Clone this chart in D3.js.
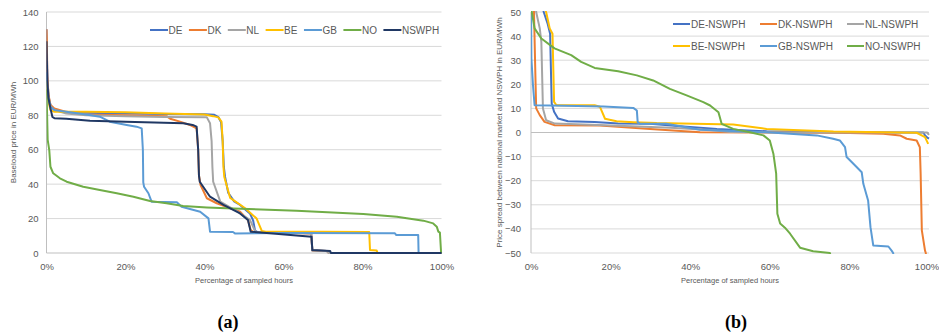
<!DOCTYPE html>
<html>
<head>
<meta charset="utf-8">
<script src="https://cdn.jsdelivr.net/npm/d3@7"></script>
<style>
  html, body { margin: 0; padding: 0; background: #fff; }
  svg { display: block; }
  text { font-family: "Liberation Sans", Arial, sans-serif; }
</style>
</head>
<body>
<svg id="fig" width="939" height="335"></svg>
<script>
// ---- Panel (a): price duration curves, [share of hours in %, EUR/MWh] ----
const priceDE = [[0,130],[0.15,110],[0.3,98],[0.6,90],[1,86],[2,83],[4,82],[10,81.5],[20,81],[30,80.8],[40,80.6],[42.5,80.3],[43.5,79],[44.2,76],[44.6,65],[44.9,50],[45.2,44.3],[46,35],[47.5,30],[49,27.9],[51.5,23],[52.3,19],[52.8,13],[53.5,12],[60,11.8],[67,11.5],[67.3,1.5],[71,1.2],[71.5,0],[100,0]];
const priceDK = [[0,130],[0.1,123],[0.2,103],[0.5,92],[1,86],[2,84],[5,82],[10,80.5],[20,80],[30.4,79.5],[31.3,78],[33.8,76.3],[36.3,74.4],[38,72.4],[38.4,60],[38.6,45],[39,39.5],[40.6,31.8],[43.1,28.9],[49,24],[51,19.2],[51.7,13.4],[52.5,12],[60,11.7],[67,11.4],[67.3,1.5],[71,1.2],[71.5,0],[100,0]];
const priceNL = [[0,100],[0.3,92],[1,85],[2,83],[5,81],[10,80],[20,79.5],[30,79],[40.6,78.8],[41.4,75.4],[41.8,65],[42,50],[42.2,41.4],[44,29.8],[48.1,24.4],[51.5,19.2],[52.8,12.8],[53.5,12],[67,11.5],[67.3,1.5],[71,1.2],[71.5,0],[100,0]];
const priceBE = [[0,100],[0.3,90],[1,83],[2,82],[10,82],[20,81.8],[30,81],[40,80.5],[42.2,79.5],[43.5,78.8],[44.3,76.3],[44.6,65],[44.8,50],[45,44.3],[46.5,32],[50.3,26],[53.2,20],[54.5,12.8],[55.5,12.4],[70,12.3],[81.7,12.2],[81.9,1.7],[83.6,1.5],[83.8,0],[100,0]];
const priceGB = [[0,105],[0.3,92],[1,85],[2,83],[5,82],[10,80.5],[13.5,79.2],[16,76.3],[20.3,74.4],[22.8,73.4],[24.1,72.4],[24.4,60],[24.5,41],[24.7,38.5],[25.8,34.7],[26.6,29.8],[33,29.5],[34.2,26.9],[38.9,24],[41,20.1],[41.4,12.4],[47.2,12.2],[47.7,11.4],[60,11.6],[88.2,11.5],[88.5,10.5],[94.1,10.5],[94.2,0],[100,0]];
const priceNO = [[0,95],[0.3,65.7],[0.7,59.8],[1,50.1],[1.7,46.3],[3.4,43.4],[5.1,41.4],[9.3,38.5],[13.5,36.6],[17.8,34.7],[22,32.7],[26.2,30.2],[30.4,28.9],[34.6,27.3],[40.6,26.5],[47.3,25.9],[63.3,24.6],[80.2,22.7],[88.7,21.1],[95.4,18.8],[97.9,17.2],[98.8,15.3],[99.2,12.4],[99.6,11.8],[99.9,0]];
const priceNSWPH = [[0,123],[0.2,100],[0.5,90],[1,84],[1.5,79],[2,78.3],[5,78],[11,76.8],[20,76.3],[34.6,75.4],[37,74.4],[38,73.4],[38.4,60],[38.6,45],[38.8,41.4],[41.4,32.7],[44.8,27.9],[49,23],[51,19.2],[51.7,12.4],[55,11.8],[67.1,9.5],[67.3,1.7],[71.8,1.2],[72,0],[100,0]];

// ---- Panel (b): spread national market minus NSWPH, [share of hours in %, EUR/MWh] ----
const spreadDE = [[0,80],[3.2,50],[4.2,45],[4.8,41],[5.2,12],[5.8,8.6],[6.8,5.8],[9.3,4.7],[16,4.4],[21.9,3.7],[29.9,3.6],[38.3,2.5],[46.7,1.5],[59.2,0.5],[75,0.2],[92.7,0],[98.6,0],[99,-1.2],[99.5,-2],[100,-2.5]];
const spreadDK = [[0,90],[0.75,50],[1.1,23.8],[1.3,10],[2.2,7.2],[3.4,4.4],[6,3],[17.3,2.9],[29.9,1.5],[42.5,0.1],[60,0],[80,-0.2],[88.5,-0.5],[92.7,-1.2],[94.4,-2.6],[96.9,-3.3],[97.7,-6.1],[97.9,-17.1],[98.2,-40.6],[99,-49],[99.2,-50],[99.4,-56]];
const spreadNL = [[0,90],[1.3,50],[2.2,43.2],[2.6,37.6],[3,10],[3.8,5.1],[6,3.7],[21.9,2.8],[35,2],[45,1],[50,0.2],[70,0],[99.5,0],[100,-1]];
const spreadBE = [[0,90],[3.8,50],[4.7,43.2],[5.4,41],[5.8,12.7],[6.4,11.3],[16,11.3],[17.3,10.7],[18.6,5.7],[21.5,4.7],[25.7,4.3],[31.6,3.9],[50.8,3.3],[59.2,1.5],[76,0.4],[96.9,-0.1],[99,-1.9],[99.8,-4.7]];
const spreadGB = [[0,56],[0.1,30.7],[0.5,19.6],[0.9,11.3],[5,11.2],[18.2,10.8],[25.7,10.2],[26.6,9.1],[26.8,4.3],[27.4,3.6],[34,3.6],[42.5,1.1],[59.2,0.1],[71.8,-1.2],[75.9,-2.6],[77.6,-3.3],[78.9,-6.1],[79.3,-10.2],[81,-13],[83.1,-16.5],[83.5,-21.3],[84.7,-28.2],[85.3,-39.3],[86,-46.9],[89.8,-47.3],[90.6,-49],[91,-50],[91.4,-56]];
const spreadNO = [[0,52],[0.9,43.2],[2.6,39],[5.9,34.9],[10.1,32.1],[12.6,29.3],[16,26.8],[21.9,25.4],[26.6,23.7],[30.7,21.6],[34.9,18.1],[39.1,15.4],[43.3,12.6],[45,11.2],[47.1,8.4],[47.9,3.6],[50.8,1.5],[55,0.1],[58.4,-1.2],[60,-3.3],[60.9,-8.8],[61.6,-17.1],[61.9,-33.7],[62.6,-37.8],[63.8,-39.5],[65.1,-42],[67.6,-47.8],[70.9,-49.3],[75.1,-50],[76,-56]];

// Tick labels
const xTicks = [0, 20, 40, 60, 80, 100];
const priceTicks = [0, 20, 40, 60, 80, 100, 120, 140];
const spreadTicks = [-50, -40, -30, -20, -10, 0, 10, 20, 30, 40, 50];

// Series names and colours
const namesA = ["DE", "DK", "NL", "BE", "GB", "NO", "NSWPH"];
const namesB = ["DE-NSWPH", "DK-NSWPH", "NL-NSWPH", "BE-NSWPH", "GB-NSWPH", "NO-NSWPH"];
const colors = ["#4472C4", "#ED7D31", "#A5A5A5", "#FFC000", "#5B9BD5", "#70AD47", "#203864"];

const seriesA = [priceDE, priceDK, priceNL, priceBE, priceGB, priceNO, priceNSWPH];
const seriesB = [spreadDE, spreadDK, spreadNL, spreadBE, spreadGB, spreadNO];

const svg = d3.select("#fig");
const gridColor = "#D9D9D9";
const axisColor = "#BFBFBF";
const labelColor = "#595959";

function panel(opts) {
  const x = d3.scaleLinear().domain([0, 100]).range(opts.xRange);
  const y = d3.scaleLinear().domain(opts.yDomain).range([253, 12]);
  const g = svg.append("g");

  // horizontal gridlines
  g.append("g").selectAll("line")
    .data(opts.yTicks.filter(v => v !== opts.axisAt))
    .join("line")
    .attr("x1", opts.xRange[0]).attr("x2", opts.xRange[1])
    .attr("y1", d => y(d)).attr("y2", d => y(d))
    .attr("stroke", gridColor).attr("stroke-width", 1);

  // axis lines
  g.append("line")
    .attr("x1", opts.xRange[0]).attr("x2", opts.xRange[1])
    .attr("y1", y(opts.axisAt)).attr("y2", y(opts.axisAt))
    .attr("stroke", axisColor).attr("stroke-width", 1);
  g.append("line")
    .attr("x1", opts.xRange[0]).attr("x2", opts.xRange[0])
    .attr("y1", 12).attr("y2", 253)
    .attr("stroke", axisColor).attr("stroke-width", 1);

  // tick labels
  const ya = g.append("g").attr("transform", `translate(${opts.xRange[0]},0)`)
    .call(d3.axisLeft(y).tickValues(opts.yTicks).tickSize(0).tickPadding(opts.yPad));
  const xa = g.append("g").attr("transform", `translate(0,253)`)
    .call(d3.axisBottom(x).tickValues(xTicks).tickSize(0).tickPadding(10.5).tickFormat(d => d + "%"));
  [ya, xa].forEach(a => {
    a.select(".domain").remove();
    a.selectAll("text").attr("fill", labelColor)
      .style("font-family", '"Liberation Sans", Arial, sans-serif')
      .style("font-size", "9.5px");
  });
  // keep the last percentage label inside the page edge
  xa.selectAll("text").filter(d => d === 100).attr("dx", opts.lastDx || 0);

  // series lines, clipped to the plot area
  const clipId = "clip-" + opts.id;
  svg.append("clipPath").attr("id", clipId).append("rect")
    .attr("x", opts.xRange[0]).attr("y", 11)
    .attr("width", opts.xRange[1] - opts.xRange[0] + 2).attr("height", 243);
  const line = d3.line().x(d => x(d[0])).y(d => y(d[1]));
  g.append("g").attr("clip-path", `url(#${clipId})`)
    .selectAll("path").data(opts.series).join("path")
    .attr("d", line)
    .attr("fill", "none")
    .attr("stroke", (d, i) => colors[i])
    .attr("stroke-width", 2)
    .attr("stroke-linejoin", "round");

  // axis titles
  g.append("text")
    .attr("transform", `translate(${opts.yTitleX},132.5) rotate(-90)`)
    .attr("text-anchor", "middle").attr("dy", "0.35em")
    .attr("fill", labelColor).style("font-size", "8px")
    .text(opts.yTitle);
  g.append("text")
    .attr("x", (opts.xRange[0] + opts.xRange[1]) / 2).attr("y", 283)
    .attr("text-anchor", "middle")
    .attr("fill", labelColor).style("font-size", "7.5px")
    .text("Percentage of sampled hours");

  // caption
  g.append("text")
    .attr("x", opts.captionX).attr("y", 328)
    .attr("text-anchor", "middle")
    .style("font-family", '"Liberation Serif", "Times New Roman", serif')
    .style("font-weight", "bold").style("font-size", "18px")
    .attr("fill", "#000")
    .text(opts.caption);

  return g;
}

const gA = panel({
  id: "a", xRange: [46.5, 441.5], yDomain: [0, 140], yTicks: priceTicks, axisAt: 0,
  yPad: 8, series: seriesA, yTitle: "Baseload price in EUR/MWh", yTitleX: 13,
  captionX: 228, caption: "(a)"
});
const gB = panel({
  id: "b", xRange: [531, 929], yDomain: [-50, 50], yTicks: spreadTicks, axisAt: 0,
  yPad: 10, series: seriesB, yTitle: "Price spread between national market and NSWPH in EUR/MWh", yTitleX: 499,
  captionX: 736, caption: "(b)", lastDx: -2.5
});

// legend (a): single row, items flowing left to right
(function () {
  const lg = gA.append("g");
  let cx = 150;
  namesA.forEach((n, i) => {
    lg.append("line").attr("x1", cx).attr("x2", cx + 18).attr("y1", 30).attr("y2", 30)
      .attr("stroke", colors[i]).attr("stroke-width", 2);
    const t = lg.append("text").attr("x", cx + 18.5).attr("y", 30).attr("dy", "0.35em")
      .attr("fill", labelColor).style("font-size", "10px").text(n);
    cx += 18.5 + t.node().getComputedTextLength() + 6.5;
  });
})();

// legend (b): two rows of three
(function () {
  const lg = gB.append("g");
  const cols = [673, 760, 847];
  const rows = [24, 46];
  namesB.forEach((n, i) => {
    const cx = cols[i % 3], cy = rows[Math.floor(i / 3)];
    lg.append("line").attr("x1", cx).attr("x2", cx + 17).attr("y1", cy).attr("y2", cy)
      .attr("stroke", colors[i]).attr("stroke-width", 2);
    lg.append("text").attr("x", cx + 18).attr("y", cy).attr("dy", "0.35em")
      .attr("fill", labelColor).style("font-size", "10px").text(n);
  });
})();
</script>
</body>
</html>
